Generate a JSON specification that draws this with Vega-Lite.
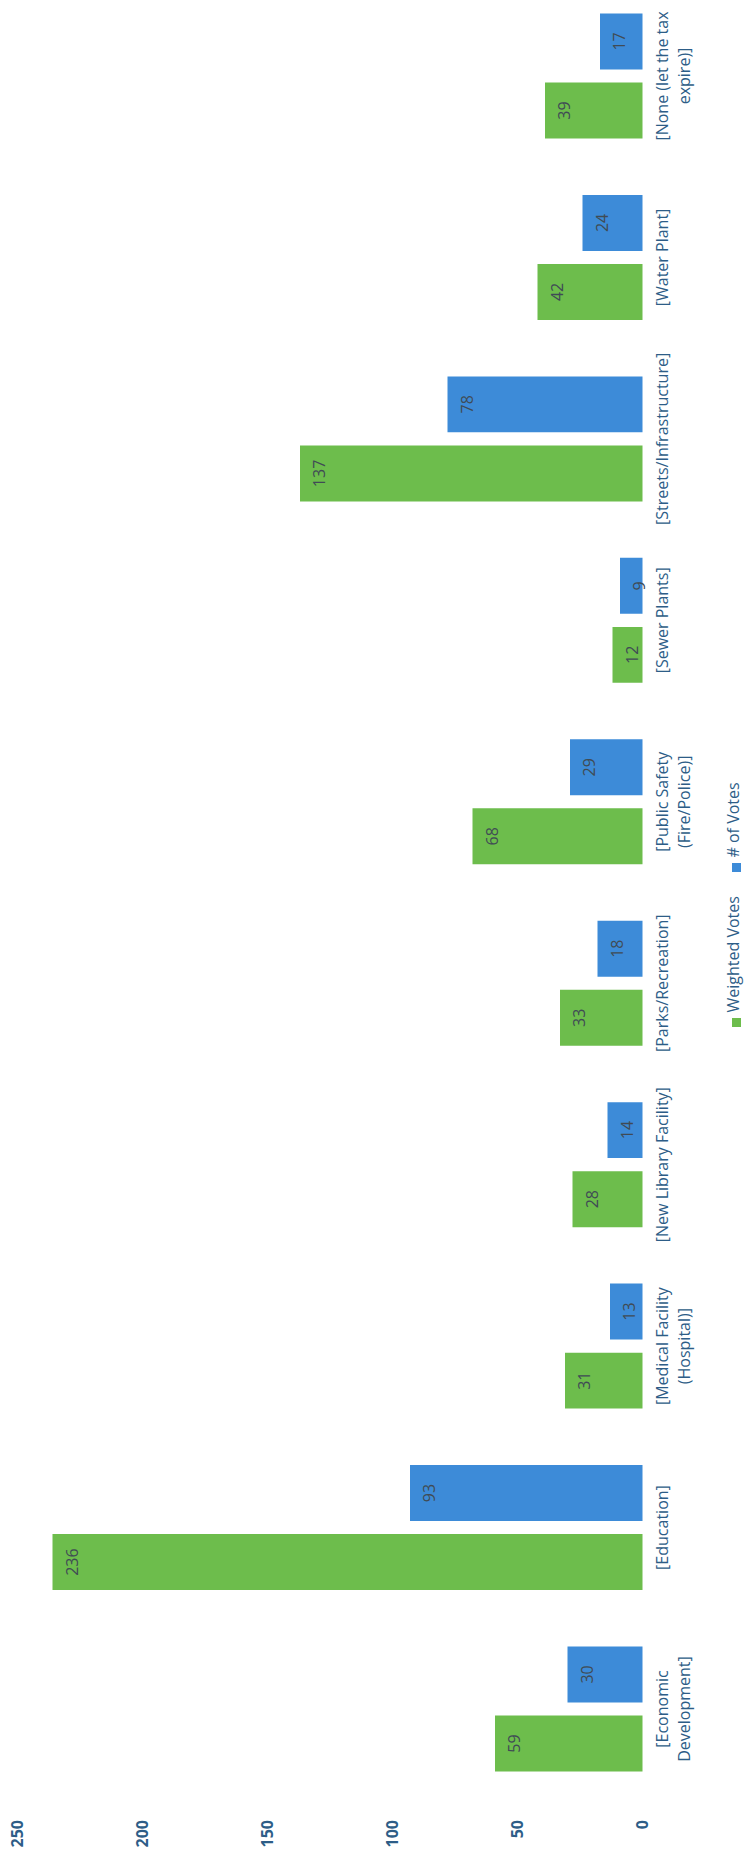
{
  "$schema": "https://vega.github.io/schema/vega-lite/v6.json",
  "width": 625,
  "height": 1758,
  "autosize": {"type": "none"},
  "padding": {"left": 17.5, "top": 13.5, "right": 101.5, "bottom": 82.5},
  "background": "white",
  "config": {"view": {"stroke": null}, "font": "Open Sans"},
  "data": {
    "values": [
      {"category": "[Economic Development]", "series": "Weighted Votes", "value": 59},
      {"category": "[Economic Development]", "series": "# of Votes", "value": 30},
      {"category": "[Education]", "series": "Weighted Votes", "value": 236},
      {"category": "[Education]", "series": "# of Votes", "value": 93},
      {"category": "[Medical Facility (Hospital)]", "series": "Weighted Votes", "value": 31},
      {"category": "[Medical Facility (Hospital)]", "series": "# of Votes", "value": 13},
      {"category": "[New Library Facility]", "series": "Weighted Votes", "value": 28},
      {"category": "[New Library Facility]", "series": "# of Votes", "value": 14},
      {"category": "[Parks/Recreation]", "series": "Weighted Votes", "value": 33},
      {"category": "[Parks/Recreation]", "series": "# of Votes", "value": 18},
      {"category": "[Public Safety (Fire/Police)]", "series": "Weighted Votes", "value": 68},
      {"category": "[Public Safety (Fire/Police)]", "series": "# of Votes", "value": 29},
      {"category": "[Sewer Plants]", "series": "Weighted Votes", "value": 12},
      {"category": "[Sewer Plants]", "series": "# of Votes", "value": 9},
      {"category": "[Streets/Infrastructure]", "series": "Weighted Votes", "value": 137},
      {"category": "[Streets/Infrastructure]", "series": "# of Votes", "value": 78},
      {"category": "[Water Plant]", "series": "Weighted Votes", "value": 42},
      {"category": "[Water Plant]", "series": "# of Votes", "value": 24},
      {"category": "[None (let the tax expire)]", "series": "Weighted Votes", "value": 39},
      {"category": "[None (let the tax expire)]", "series": "# of Votes", "value": 17}
    ]
  },
  "encoding": {
    "y": {
      "field": "category",
      "type": "nominal",
      "sort": ["[None (let the tax expire)]", "[Water Plant]", "[Streets/Infrastructure]", "[Sewer Plants]", "[Public Safety (Fire/Police)]", "[Parks/Recreation]", "[New Library Facility]", "[Medical Facility (Hospital)]", "[Education]", "[Economic Development]"],
      "scale": {"paddingInner": 0.311, "paddingOuter": 0},
      "axis": {
        "orient": "right",
        "title": null,
        "domain": false,
        "ticks": false,
        "labelAngle": 270,
        "labelAlign": "center",
        "labelBaseline": "top",
        "labelPadding": 12,
        "labelFontSize": 16,
        "labelColor": "#2d5d87",
        "labelLimit": 400,
        "labelLineHeight": 22,
        "labelExpr": "datum.value == '[Economic Development]' ? ['[Economic', 'Development]'] : datum.value == '[Medical Facility (Hospital)]' ? ['[Medical Facility', '(Hospital)]'] : datum.value == '[Public Safety (Fire/Police)]' ? ['[Public Safety', '(Fire/Police)]'] : datum.value == '[None (let the tax expire)]' ? ['[None (let the tax', 'expire)]'] : datum.label"
      }
    },
    "yOffset": {
      "field": "series",
      "sort": ["# of Votes", "Weighted Votes"],
      "scale": {"paddingInner": 0.19, "paddingOuter": 0}
    },
    "x": {
      "field": "value",
      "type": "quantitative",
      "scale": {"domain": [0, 250], "reverse": true, "nice": false},
      "axis": {
        "title": null,
        "values": [0, 50, 100, 150, 200, 250],
        "domain": false,
        "ticks": false,
        "grid": false,
        "labelFlush": false,
        "labelAngle": 270,
        "labelAlign": "right",
        "labelBaseline": "middle",
        "labelPadding": 48,
        "labelFontSize": 16,
        "labelFontWeight": "bold",
        "labelColor": "#2d5d87"
      }
    }
  },
  "layer": [
    {
      "mark": {"type": "bar"},
      "encoding": {
        "color": {
          "field": "series",
          "type": "nominal",
          "scale": {"domain": ["# of Votes", "Weighted Votes"], "range": ["#3d8bd8", "#6dbd4c"]},
          "legend": {
            "orient": "none",
            "legendX": 711,
            "legendY": 846,
            "title": null,
            "symbolType": "square",
            "symbolSize": 81,
            "symbolStrokeWidth": 0,
            "labelFontSize": 16,
            "labelColor": "#2d5d87",
            "labelAlign": "left",
            "labelBaseline": "middle",
            "labelLimit": 300,
            "rowPadding": 23,
            "encoding": {
              "labels": {
                "angle": {"value": 270},
                "x": {"value": 5},
                "dx": {"value": 10},
                "fontSize": {"value": 16},
                "fill": {"value": "#2d5d87"}
              }
            }
          }
        }
      }
    },
    {
      "mark": {"type": "text", "angle": 270, "align": "center", "baseline": "top", "dy": 12, "fontSize": 16, "color": "#404b55"},
      "encoding": {"text": {"field": "value", "type": "quantitative"}}
    }
  ]
}
